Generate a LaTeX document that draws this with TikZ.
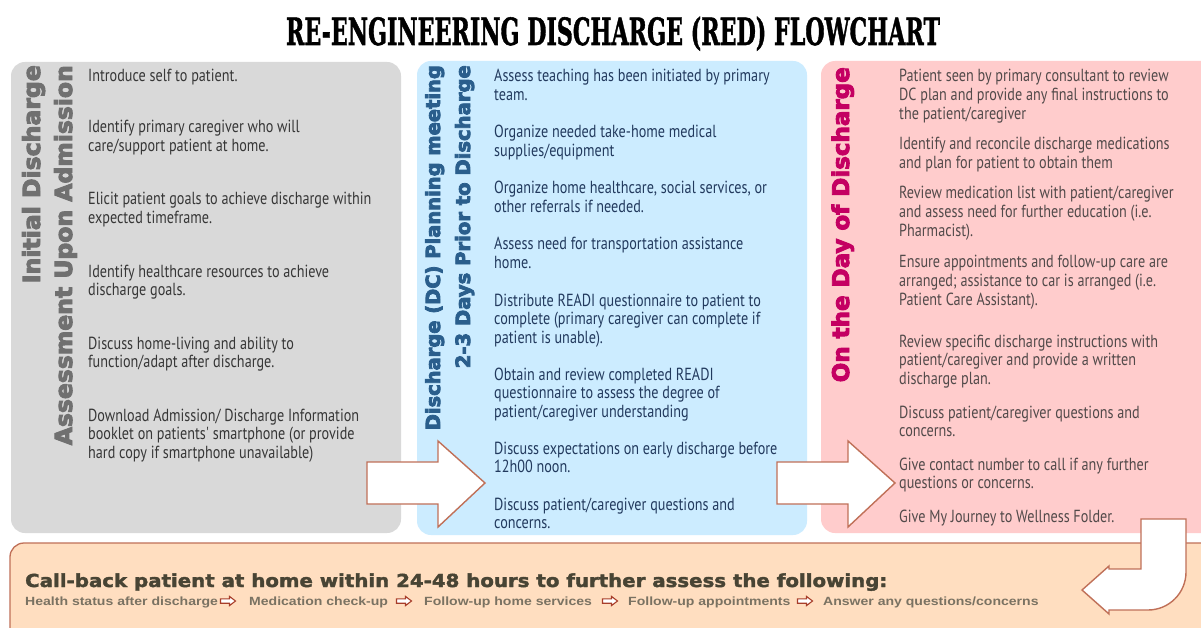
\documentclass[tikz,border=0pt]{standalone}
\usepackage{fontspec}
\usepackage{graphicx}
\setmainfont{PT Sans}
\newfontfamily\bodyfont[FakeStretch=0.81]{PT Sans}
\newfontfamily\labelfont[BoldFeatures={FakeBold=2}]{DejaVu Sans}
\newfontfamily\headfont[BoldFeatures={FakeBold=4}]{DejaVu Sans}
\newfontfamily\titlefont[BoldFeatures={FakeBold=1.5}]{DejaVu Serif}
\newfontfamily\callfont{Liberation Sans}

\definecolor{panelgray}{RGB}{217,217,217}
\definecolor{panelblue}{RGB}{204,236,255}
\definecolor{panelpink}{RGB}{255,204,204}
\definecolor{panelpeach}{RGB}{255,222,192}
\definecolor{edgebrown}{RGB}{192,112,88}
\definecolor{labelgray}{RGB}{112,112,112}
\definecolor{labelblue}{RGB}{42,94,140}
\definecolor{labelmagenta}{RGB}{196,0,98}
\definecolor{textgray}{RGB}{55,55,55}
\definecolor{textnavy}{RGB}{34,58,94}
\definecolor{textrose}{RGB}{82,74,74}
\definecolor{calldark}{RGB}{72,68,52}
\definecolor{callsoft}{RGB}{122,114,98}
\definecolor{tinyred}{RGB}{168,62,42}

% paragraph of explicit lines; its baseline is the first line's baseline
\newcommand\stepitem[1]{\vtop{\baselineskip=18.8pt\lineskiplimit=-20pt #1}}
% heavy stage heading, stretched to a given length
\newcommand\stagehead[2]{\resizebox{#1}{!}{\headfont\bfseries #2}}
% follow-up topic, widened a little
\newcommand\topic[1]{\scalebox{1.18}[1]{\callfont\bfseries\fontsize{11.9}{14}\selectfont #1}}

\begin{document}
\begin{tikzpicture}[x=1pt,y=-1pt,
  panel/.style={rounded corners=14pt},
  bodytext/.style={anchor=base west, inner sep=0pt,
    font=\bodyfont\fontsize{17.5}{18.8}\selectfont},
  sidelabel/.style={rotate=90, anchor=base east, inner sep=0pt},
  bigarrow/.style={draw=edgebrown, fill=white, line width=1.4pt, line join=miter},
  followup/.style={anchor=base west, inner sep=0pt, text=callsoft},
  pics/rightarrow/.style={code={
    \path[bigarrow] (0,0) -- (71,0) -- (71,-21) -- (118,21) -- (71,65)
      -- (71,42) -- (0,42) -- cycle;}},
  pics/tinyarrow/.style={code={
    \path[draw=tinyred, fill=white, line width=1.1pt, line join=miter]
      (-7.5,-2.2) -- (1.5,-2.2) -- (1.5,-4.6) -- (7.5,0) -- (1.5,4.6)
      -- (1.5,2.2) -- (-7.5,2.2) -- cycle;}}
]
\useasboundingbox (0,0) rectangle (1201,628);
\fill[white] (0,0) rectangle (1201,628);
\clip (0,0) rectangle (1201,628);

% title
\node[anchor=base, inner sep=0pt] (title) at (613,45)
  {\resizebox{654pt}{28.5pt}{\titlefont\bfseries RE-ENGINEERING DISCHARGE (RED) FLOWCHART}};

% the three stage panels and the follow-up band
\path[panel, fill=panelgray] (11,62) rectangle (401,533);
\path[panel, fill=panelblue] (417,61) rectangle (807,535);
\path[panel, fill=panelpink] (821,61) rectangle (1240,533);
\path[panel, fill=panelpeach, draw=edgebrown, line width=1.3pt] (10,543) rectangle (1240,670);

% stage headings
\node[sidelabel, text=labelgray] (admitA) at (40,65) {\stagehead{218pt}{Initial Discharge}};
\node[sidelabel, text=labelgray] (admitB) at (72,65) {\stagehead{380pt}{Assessment Upon Admission}};
\node[sidelabel, text=labelblue] (planA) at (440,65) {\stagehead{365pt}{Discharge (DC) Planning meeting}};
\node[sidelabel, text=labelblue] (planB) at (470,65) {\stagehead{303pt}{2-3 Days Prior to Discharge}};
\node[sidelabel, text=labelmagenta] (dayA) at (849,67) {\stagehead{315pt}{On the Day of Discharge}};

% admission steps
\begin{scope}[every node/.append style={bodytext, text=textgray}]
\node (a1) at (88,82)  {\stepitem{\hbox{Introduce self to patient.}}};
\node (a2) at (88,133) {\stepitem{\hbox{Identify primary caregiver who will}\hbox{care/support patient at home.}}};
\node (a3) at (88,205) {\stepitem{\hbox{Elicit patient goals to achieve discharge within}\hbox{expected timeframe.}}};
\node (a4) at (88,277) {\stepitem{\hbox{Identify healthcare resources to achieve}\hbox{discharge goals.}}};
\node (a5) at (88,349) {\stepitem{\hbox{Discuss home-living and ability to}\hbox{function/adapt after discharge.}}};
\node (a6) at (88,421) {\stepitem{\hbox{Download Admission/ Discharge Information}\hbox{booklet on patients' smartphone (or provide}\hbox{hard copy if smartphone unavailable)}}};
\end{scope}

% planning steps
\begin{scope}[every node/.append style={bodytext, text=textnavy}]
\node (p1) at (494,82)  {\stepitem{\hbox{Assess teaching has been initiated by primary}\hbox{team.}}};
\node (p2) at (494,138) {\stepitem{\hbox{Organize needed take-home medical}\hbox{supplies/equipment}}};
\node (p3) at (494,194) {\stepitem{\hbox{Organize home healthcare, social services, or}\hbox{other referrals if needed.}}};
\node (p4) at (494,250) {\stepitem{\hbox{Assess need for transportation assistance}\hbox{home.}}};
\node (p5) at (494,306) {\stepitem{\hbox{Distribute READI questionnaire to patient to}\hbox{complete (primary caregiver can complete if}\hbox{patient is unable).}}};
\node (p6) at (494,380) {\stepitem{\hbox{Obtain and review completed READI}\hbox{questionnaire to assess the degree of}\hbox{patient/caregiver understanding}}};
\node (p7) at (494,454) {\stepitem{\hbox{Discuss expectations on early discharge before}\hbox{12h00 noon.}}};
\node (p8) at (494,510) {\stepitem{\hbox{Discuss patient/caregiver questions and}\hbox{concerns.}}};
\end{scope}

% day-of-discharge steps
\begin{scope}[every node/.append style={bodytext, text=textrose}]
\node (d1) at (899,82)  {\stepitem{\hbox{Patient seen by primary consultant to review}\hbox{DC plan and provide any final instructions to}\hbox{the patient/caregiver}}};
\node (d2) at (899,150) {\stepitem{\hbox{Identify and reconcile discharge medications}\hbox{and plan for patient to obtain them}}};
\node (d3) at (899,199) {\stepitem{\hbox{Review medication list with patient/caregiver}\hbox{and assess need for further education (i.e.}\hbox{Pharmacist).}}};
\node (d4) at (899,268) {\stepitem{\hbox{Ensure appointments and follow-up care are}\hbox{arranged; assistance to car is arranged (i.e.}\hbox{Patient Care Assistant).}}};
\node (d5) at (899,347) {\stepitem{\hbox{Review specific discharge instructions with}\hbox{patient/caregiver and provide a written}\hbox{discharge plan.}}};
\node (d6) at (899,418) {\stepitem{\hbox{Discuss patient/caregiver questions and}\hbox{concerns.}}};
\node (d7) at (899,470) {\stepitem{\hbox{Give contact number to call if any further}\hbox{questions or concerns.}}};
\node (d8) at (899,522) {\stepitem{\hbox{Give My Journey to Wellness Folder.}}};
\end{scope}

% block arrows between the stages
\pic at (367,462) {rightarrow};
\pic at (777,462) {rightarrow};

% bent arrow down into the follow-up band
\path[bigarrow] (1141,519) -- (1186,519) -- (1186,572)
  arc[start angle=0, end angle=90, radius=38] -- (1109,610) -- (1109,614)
  -- (1082,590) -- (1109,566) -- (1109,569) -- (1141,569) -- cycle;

% follow-up call
\node[anchor=base west, inner sep=0pt, text=calldark] (callhead) at (25,587)
  {\resizebox{862pt}{13.6pt}{\labelfont\bfseries Call-back patient at home within 24-48 hours to further assess the following:}};
\node[followup] (f1) at (25,605) {\topic{Health status after discharge}};
\pic at (228,601) {tinyarrow};
\node[followup] (f2) at (249,605) {\topic{Medication check-up}};
\pic at (404,601) {tinyarrow};
\node[followup] (f3) at (424,605) {\topic{Follow-up home services}};
\pic at (610,601) {tinyarrow};
\node[followup] (f4) at (628,605) {\topic{Follow-up appointments}};
\pic at (805,601) {tinyarrow};
\node[followup] (f5) at (823,605) {\topic{Answer any questions/concerns}};
\end{tikzpicture}
\end{document}
